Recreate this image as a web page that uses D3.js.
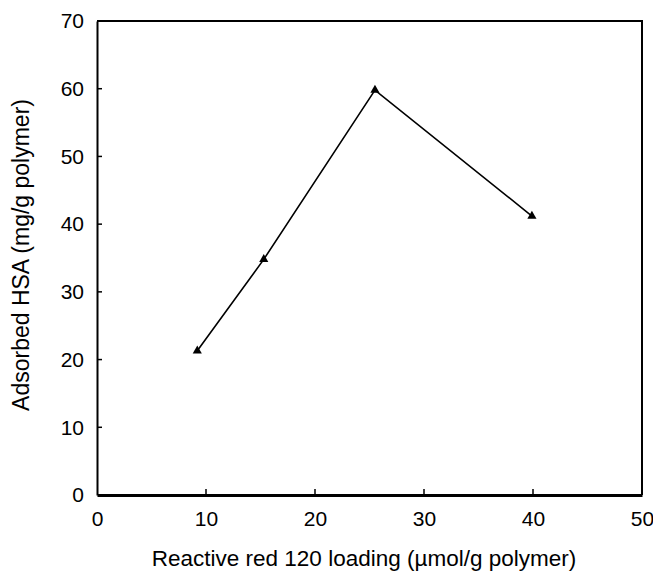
<!DOCTYPE html>
<html lang="en">
<head>
    <meta charset="UTF-8">
    <title>Adsorbed HSA vs Reactive red 120 loading</title>
    <style>
        body { margin: 0; background: #fff; }
        text { font-family: "Liberation Sans", Arial, sans-serif; fill: #000; }
    </style>
</head>
<body>
    <svg id="chart" width="653" height="571"></svg>
    <script src="https://d3js.org/d3.v7.min.js"></script>
    <script>
        var loading = [9.2, 15.3, 25.5, 39.9];
        var adsorbed = [21.3, 34.8, 59.8, 41.2];
        var xTicks = [0, 10, 20, 30, 40, 50];
        var yTicks = [0, 10, 20, 30, 40, 50, 60, 70];

        var margin = { top: 21, right: 11, bottom: 76, left: 97 },
            width = 653 - margin.left - margin.right,
            height = 571 - margin.top - margin.bottom;

        var svg = d3.select("#chart")
                    .append("g")
                    .attr("transform", "translate(" + margin.left + "," + margin.top + ")");

        var x = d3.scaleLinear().domain([0, 50]).range([0, width]);
        var y = d3.scaleLinear().domain([0, 70]).range([height, 0]);

        // frame: top and right
        svg.append("path")
           .attr("d", "M0," + y(70) + "H" + x(50) + "V" + y(0))
           .attr("fill", "none")
           .attr("stroke", "#000")
           .attr("stroke-width", 2);

        // x axis
        var xAxis = svg.append("g")
           .attr("transform", "translate(0," + height + ")")
           .call(d3.axisBottom(x).tickValues(xTicks).tickSize(0).tickPadding(16).tickFormat(d3.format("d")));
        xAxis.select(".domain").attr("stroke-width", 3);
        xAxis.selectAll(".tick line").remove();
        xAxis.selectAll("text").style("font-size", "21px");
        svg.append("g").selectAll("line")
           .data(xTicks.slice(1, -1))
           .enter().append("line")
           .attr("x1", function(d) { return x(d); })
           .attr("x2", function(d) { return x(d); })
           .attr("y1", height)
           .attr("y2", height - 6)
           .attr("stroke", "#000")
           .attr("stroke-width", 1.5);

        // y axis
        var yAxis = svg.append("g")
           .call(d3.axisLeft(y).tickValues(yTicks).tickSize(0).tickPadding(13).tickFormat(d3.format("d")));
        yAxis.select(".domain").attr("stroke-width", 2);
        yAxis.selectAll(".tick line").remove();
        yAxis.selectAll("text").style("font-size", "21px");
        svg.append("g").selectAll("line")
           .data(yTicks.slice(1, -1))
           .enter().append("line")
           .attr("x1", 0)
           .attr("x2", 5)
           .attr("y1", function(d) { return y(d); })
           .attr("y2", function(d) { return y(d); })
           .attr("stroke", "#000")
           .attr("stroke-width", 1.5);

        var points = loading.map(function(d, i) { return [d, adsorbed[i]]; });

        svg.append("path")
           .datum(points)
           .attr("fill", "none")
           .attr("stroke", "#000")
           .attr("stroke-width", 1.6)
           .attr("d", d3.line().x(function(d) { return x(d[0]); }).y(function(d) { return y(d[1]); }));

        svg.selectAll(".pt")
           .data(points)
           .enter().append("path")
           .attr("class", "pt")
           .attr("transform", function(d) { return "translate(" + x(d[0]) + "," + y(d[1]) + ")"; })
           .attr("d", d3.symbol().type(d3.symbolTriangle).size(36))
           .attr("fill", "#000");

        // Label for X Axis
        svg.append("text")
           .attr("x", 364 - margin.left)
           .attr("y", 566 - margin.top)
           .style("text-anchor", "middle")
           .style("font-size", "22.5px")
           .text("Reactive red 120 loading (µmol/g polymer)");

        // Label for Y Axis
        svg.append("text")
           .attr("transform", "rotate(-90)")
           .attr("x", -(255 - margin.top))
           .attr("y", 29 - margin.left)
           .style("text-anchor", "middle")
           .style("font-size", "23px")
           .text("Adsorbed HSA (mg/g polymer)");
    </script>
</body>
</html>
